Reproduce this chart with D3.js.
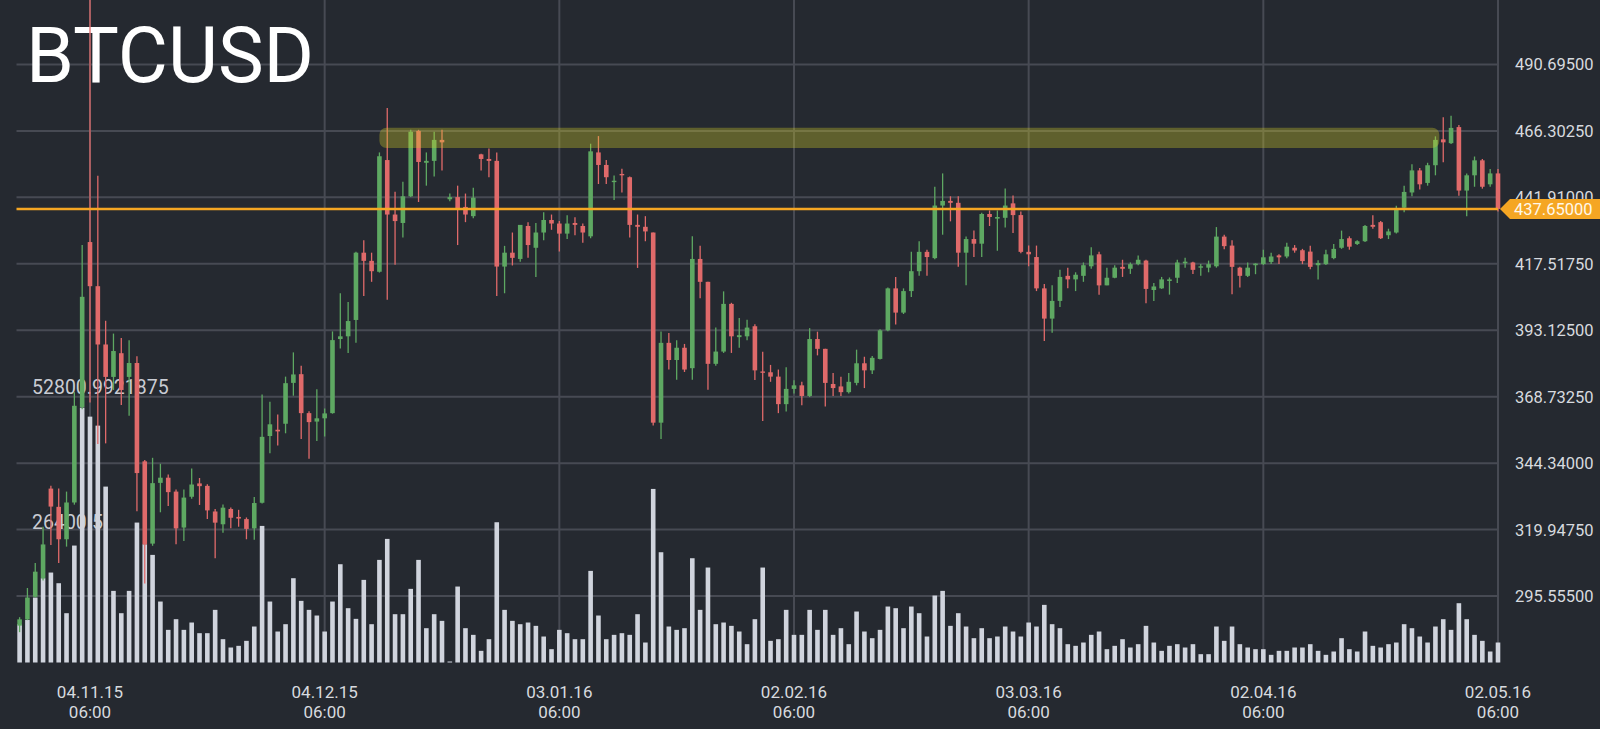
<!DOCTYPE html>
<html><head><meta charset="utf-8">
<script src="https://cdn.jsdelivr.net/npm/d3@7"></script>
<style>html,body{margin:0;padding:0;background:#252930;overflow:hidden}</style>
</head><body><svg id="chart" width="1600" height="729"></svg>
<script>
// ---------------- DATA ----------------
const symbol = "BTCUSD";
const firstDay = Date.UTC(2015, 9, 26, 6); // 26.10.15 06:00, one candle per day
const opens = [
284.7,287.0,295.3,302.1,335.0,328.3,316.4,329.9,364.9,425.5,
409.3,387.9,376.0,384.7,376.0,381.1,345.0,314.8,337.1,339.0,
333.9,320.7,332.0,336.9,336.0,326.6,321.9,327.5,324.6,323.8,
320.4,329.8,354.3,356.6,358.8,373.8,377.0,362.7,359.6,360.8,
362.7,389.9,390.9,396.9,421.6,418.6,414.6,455.6,435.6,432.5,
442.3,466.3,454.6,455.3,463.0,441.2,442.0,438.4,435.0,457.7,
456.0,455.3,416.5,421.6,419.3,431.4,423.4,429.0,433.6,432.3,
428.6,432.5,431.4,427.6,458.4,453.8,447.5,450.5,449.3,431.8,
431.1,429.0,359.2,388.5,382.2,386.7,379.2,419.3,410.9,380.8,
385.3,402.8,390.6,390.9,394.6,378.0,377.7,376.1,366.0,371.6,
372.9,369.0,389.9,386.3,373.4,372.5,370.4,373.8,381.0,378.4,
382.6,393.1,408.5,399.6,407.5,414.8,421.9,419.6,438.9,440.6,
439.9,421.6,426.6,424.9,435.8,434.1,434.4,439.7,435.4,421.9,
420.0,408.5,397.4,403.9,413.1,411.8,413.1,416.6,421.0,409.6,
412.4,416.4,415.7,417.4,418.7,407.9,408.5,411.2,412.4,417.7,
418.0,416.1,416.1,416.6,427.5,424.2,416.1,413.1,417.0,417.4,
418.2,420.6,420.2,423.4,422.5,422.0,417.0,417.4,419.6,423.4,
426.9,424.8,425.8,431.8,432.8,428.0,429.0,438.1,443.7,451.8,
447.2,453.7,463.2,461.8,467.7,444.4,450.0,455.5,446.7,450.7];
const closes = [
287.0,295.0,304.5,314.5,328.4,316.4,329.9,365.4,405.4,409.3,
387.9,376.0,385.5,371.2,381.1,340.7,314.5,337.0,339.0,333.7,
320.4,331.7,336.5,335.9,327.0,322.5,328.0,324.3,324.0,320.2,
329.7,354.0,358.6,356.0,373.7,376.9,362.7,359.4,360.8,362.6,
389.5,390.9,396.5,421.6,418.6,414.8,457.0,435.6,433.2,442.3,
466.0,454.9,455.3,463.0,462.1,442.0,437.4,435.6,441.8,456.0,
455.3,416.5,421.6,419.7,431.8,424.4,429.0,433.6,432.3,428.6,
432.3,431.8,429.0,458.8,453.8,449.3,448.0,450.0,431.8,431.1,
429.4,359.2,388.5,382.2,386.7,378.7,419.3,410.9,380.8,385.3,
402.8,390.9,391.3,394.1,378.4,377.5,376.1,366.0,371.6,372.9,
369.0,389.9,386.3,373.8,371.9,370.4,374.2,381.0,378.4,383.0,
393.1,408.5,399.6,407.5,414.8,421.9,420.0,438.9,440.6,439.9,
421.6,426.6,424.9,435.8,434.7,434.7,438.9,435.4,421.9,421.0,
408.5,397.4,403.9,412.7,411.8,413.5,417.0,420.6,409.6,412.4,
416.1,415.7,417.4,419.0,408.3,409.2,411.8,411.8,418.0,418.3,
415.3,416.6,417.4,427.5,424.0,416.4,413.1,416.1,417.6,419.9,
420.2,419.9,423.8,422.4,418.5,416.4,417.8,421.0,423.0,426.6,
423.8,425.8,431.4,431.1,426.9,429.4,437.8,443.9,451.8,446.7,
453.7,463.0,462.1,467.4,444.4,450.0,455.5,445.8,450.7,437.65];
const highs = [
287.8,298.5,307.7,321.0,336.0,335.0,333.9,370.4,424.4,516.0,
449.8,396.6,391.9,390.3,389.5,383.6,345.5,346.3,344.1,340.2,
334.7,334.7,342.4,338.9,336.6,327.5,329.2,328.1,327.2,324.4,
331.9,369.5,366.9,362.2,376.1,385.0,380.1,363.4,371.5,364.4,
392.7,406.7,403.5,421.9,426.2,421.6,458.4,474.7,444.0,447.6,
466.7,466.7,458.4,466.0,466.7,443.3,446.2,443.3,445.4,457.9,
459.8,458.4,424.1,429.0,431.8,432.8,432.5,436.4,435.6,433.2,
435.3,434.6,432.3,461.6,464.4,455.6,449.9,452.4,449.6,435.6,
435.0,429.0,392.7,392.1,389.5,388.1,427.6,424.1,410.9,394.1,
407.4,403.2,397.6,397.0,395.3,385.2,380.4,378.7,379.5,374.8,
374.2,393.9,392.6,386.3,377.4,376.1,377.4,386.0,383.4,383.7,
393.5,408.8,412.7,408.5,421.9,425.8,422.7,445.8,450.7,442.3,
442.3,427.5,429.7,436.3,437.1,437.1,445.2,442.6,436.7,424.2,
424.2,410.1,409.6,415.3,416.1,414.4,418.0,423.6,421.9,416.1,
417.0,419.0,418.0,420.6,419.0,410.5,412.7,412.5,419.0,419.7,
418.3,417.4,418.7,431.0,428.2,426.2,416.4,418.0,417.7,422.7,
421.6,421.0,425.2,424.4,423.0,424.1,418.8,422.7,424.8,429.7,
427.6,426.2,431.8,435.3,433.2,430.4,438.8,446.2,454.1,452.7,
454.6,464.3,471.3,471.9,468.5,450.7,456.9,456.0,452.3,452.3];
const lows = [
282.3,286.7,295.0,301.3,314.3,307.7,313.7,329.1,364.1,366.6,
351.4,351.6,371.2,365.7,361.7,326.7,300.2,314.0,326.3,328.6,
314.6,315.8,331.3,329.0,323.8,309.4,318.8,320.4,321.0,316.4,
316.2,329.5,348.0,350.8,355.3,369.1,353.2,346.0,352.5,354.1,
362.5,386.4,384.8,388.5,405.7,410.9,414.3,404.3,417.2,427.2,
442.0,440.2,446.2,449.6,451.8,440.5,424.4,432.8,434.2,451.8,
449.3,405.7,406.7,416.9,418.3,419.7,412.7,426.2,430.0,422.0,
426.6,428.0,425.2,426.9,446.8,446.8,440.9,443.7,427.2,416.0,
425.8,358.2,353.2,378.7,375.0,377.8,375.0,404.9,371.3,380.1,
384.8,384.8,386.7,389.5,374.9,359.8,374.2,362.7,363.3,369.9,
365.6,368.6,383.9,365.1,369.0,369.0,369.9,372.9,371.9,377.1,
382.4,392.8,395.2,399.1,405.3,413.1,413.1,419.2,428.2,433.1,
416.4,409.6,420.0,420.0,431.4,422.3,430.8,428.8,421.4,416.6,
407.5,389.2,392.2,401.7,408.5,407.5,410.9,415.7,406.2,409.6,
412.2,412.7,413.8,417.0,403.0,403.9,408.3,406.2,410.5,416.1,
413.8,413.1,414.4,416.1,422.9,406.3,408.8,412.7,413.7,417.1,
417.4,417.4,419.6,421.6,417.4,415.5,411.8,417.1,419.2,423.0,
422.7,424.4,425.5,430.4,426.6,426.6,428.6,436.4,442.3,444.8,
446.2,450.0,454.8,461.5,442.5,435.0,445.8,445.1,445.8,436.7];
const volumes = [
7478,8324,12681,16453,17558,15477,9624,22826,49748,47992,
46236,34336,13981,9624,13981,27313,23086,21005,11900,6373,
8454,6373,7804,5723,5723,10275,4552,2926,3252,4227,
7023,26662,11900,6048,7478,16453,12031,10275,9169,6048,
11900,19184,10600,8519,16127,7478,20029,24126,9429,9429,
14372,20029,6698,9429,8129,195,14827,6698,5397,2276,
4552,27378,10275,8129,7478,7804,7153,5072,2601,6373,
5723,4552,4552,17883,9169,4552,5397,5723,5397,9429,
3902,33881,21525,7023,6373,6698,20354,10275,18534,7478,
7804,7153,6048,3577,8454,18534,4227,4552,10275,5397,
5397,10275,6373,10275,5397,6698,3577,9950,6048,4747,
6373,10925,10600,6698,10925,9624,5072,13071,13981,7153,
9624,7023,4747,6698,4747,5072,7023,6048,5072,7804,
7023,11250,7478,6698,3577,3252,3902,5397,6048,2601,
3252,4552,2926,3577,7153,3902,2276,3252,3577,2926,
3577,1626,1626,7023,4227,7023,3577,2926,2601,2601,
1496,2276,2276,2926,2926,3577,2276,1496,2146,4747,
2601,2146,6048,3252,2926,3577,3902,7478,6698,5072,
3902,7023,8454,6373,11575,8454,5397,4227,2146,3902];
const priceTicks = [295.555, 319.9475, 344.34, 368.7325, 393.125, 417.5175, 441.91, 466.3025, 490.695];
const priceDomain = [271.1625, 515.0875];
const volumeTicks = [26400.5, 52800.9921875];
const timeTicks = [Date.UTC(2015,10,4,6), Date.UTC(2015,11,4,6), Date.UTC(2016,0,3,6),
  Date.UTC(2016,1,2,6), Date.UTC(2016,2,3,6), Date.UTC(2016,3,2,6), Date.UTC(2016,4,2,6)];
const lastPrice = 437.65;
const zoneLow = 460.0, zoneHigh = 467.5;
const zoneStart = Date.UTC(2015,11,11,6), zoneEnd = Date.UTC(2016,3,24,18);

// ---------------- LAYOUT ----------------
const W = 1600, H = 729;
const plotLeft = 16.5, plotRight = 1498, plotTop = 0, plotBottom = 662.5;
const C = {bg:"#252930", grid:"#474a53", up:"#5ea862", down:"#e06a6a", vol:"#d0d4dd",
  text:"#d7dadf", orange:"#f5a623"};
const dates = opens.map((_, i) => new Date(firstDay + i * 864e5));

const x = d3.scaleUtc().domain([new Date(timeTicks[0]), new Date(timeTicks[6])]).range([90, 1498]);
const y = d3.scaleLinear().domain(priceDomain).range([662.5, -2]);
const yv = d3.scaleLinear().domain([0, volumeTicks[1]]).range([662.5, 392]);

const svg = d3.select("#chart");
svg.append("rect").attr("width", W).attr("height", H).attr("fill", C.bg);

const grid = svg.append("g");
grid.selectAll("line.h").data(priceTicks).join("line")
  .attr("x1", plotLeft).attr("x2", plotRight)
  .attr("y1", d => y(d)).attr("y2", d => y(d))
  .attr("stroke", C.grid).attr("stroke-width", 2);
grid.selectAll("line.v").data(timeTicks).join("line")
  .attr("x1", d => x(new Date(d))).attr("x2", d => x(new Date(d)))
  .attr("y1", plotTop).attr("y2", plotBottom)
  .attr("stroke", C.grid).attr("stroke-width", 2);

// title
svg.append("text").text(symbol).attr("x", 26).attr("y", 81.5)
  .attr("font-family", "Roboto").attr("font-size", 77).attr("fill", "#ffffff");

// volume labels
svg.selectAll("text.vl").data(volumeTicks).join("text")
  .attr("x", 32).attr("y", d => yv(d) + 2)
  .attr("font-family", "Roboto").attr("font-size", 19.5).attr("fill", "#c9ccd3")
  .text(d => String(d));

// volume bars
const bw = 4.6;
svg.append("g").selectAll("rect").data(volumes).join("rect")
  .attr("x", (d, i) => x(dates[i]) - bw / 2).attr("width", bw)
  .attr("y", d => yv(d)).attr("height", d => yv(0) - yv(d))
  .attr("fill", C.vol);

// candles
const cg = svg.append("g");
const idx = d3.range(opens.length);
const col = i => closes[i] >= opens[i] ? C.up : C.down;
cg.selectAll("line").data(idx).join("line")
  .attr("x1", i => x(dates[i])).attr("x2", i => x(dates[i]))
  .attr("y1", i => y(highs[i])).attr("y2", i => y(lows[i]))
  .attr("stroke", col).attr("stroke-width", 1.3);
cg.selectAll("rect").data(idx).join("rect")
  .attr("x", i => x(dates[i]) - bw / 2).attr("width", bw)
  .attr("y", i => y(Math.max(opens[i], closes[i])))
  .attr("height", i => Math.max(1.2, Math.abs(y(opens[i]) - y(closes[i]))))
  .attr("fill", col);

// resistance zone
svg.append("rect")
  .attr("x", x(new Date(zoneStart))).attr("width", x(new Date(zoneEnd)) - x(new Date(zoneStart)))
  .attr("y", y(zoneHigh)).attr("height", y(zoneLow) - y(zoneHigh))
  .attr("rx", 7).attr("fill", "rgba(215,210,40,0.33)");

// last price line
svg.append("line").attr("x1", plotLeft).attr("x2", plotRight)
  .attr("y1", y(lastPrice)).attr("y2", y(lastPrice))
  .attr("stroke", C.orange).attr("stroke-width", 2.5);

// price axis labels
svg.selectAll("text.pl").data(priceTicks).join("text")
  .attr("x", 1515).attr("y", d => y(d)).attr("dy", "0.36em")
  .attr("font-family", "Roboto").attr("font-size", 16.5).attr("fill", C.text)
  .text(d => d.toFixed(5));

// last price tag
const ty = y(lastPrice);
svg.append("path")
  .attr("d", `M${plotRight + 2},${ty} L${plotRight + 12},${ty - 10} L${W},${ty - 10} L${W},${ty + 10} L${plotRight + 12},${ty + 10} Z`)
  .attr("fill", C.orange);
svg.append("text").attr("x", 1514).attr("y", ty).attr("dy", "0.36em")
  .attr("font-family", "Roboto").attr("font-size", 16.5).attr("fill", "#fff8ea")
  .text(lastPrice.toFixed(5));

// time axis labels
const fmtD = d3.utcFormat("%d.%m.%y"), fmtT = d3.utcFormat("%H:%M");
const tl = svg.selectAll("g.tl").data(timeTicks).join("g")
  .attr("transform", d => `translate(${x(new Date(d))},0)`);
tl.append("text").attr("y", 698).attr("text-anchor", "middle")
  .attr("font-family", "Roboto").attr("font-size", 17).attr("fill", C.text)
  .text(d => fmtD(new Date(d)));
tl.append("text").attr("y", 717.5).attr("text-anchor", "middle")
  .attr("font-family", "Roboto").attr("font-size", 17).attr("fill", C.text)
  .text(d => fmtT(new Date(d)));
</script></body></html>
